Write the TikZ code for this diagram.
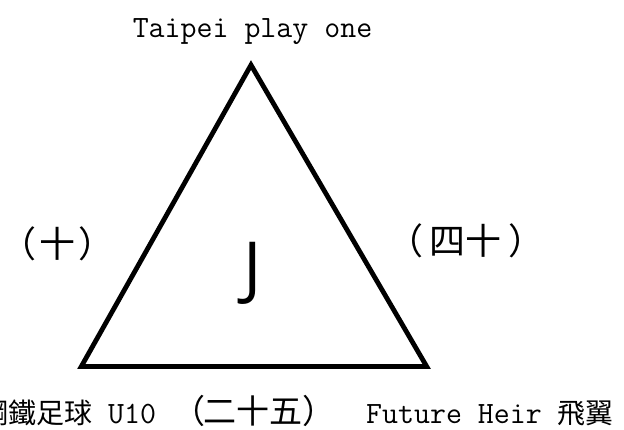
\documentclass[tikz,border=0pt]{standalone}
\usepackage{fontspec}
\newfontfamily\cjk{Noto Sans CJK TC}
\newfontfamily\jfont{Open Sans}
\tikzset{
  lbl/.style={inner sep=0pt, text=black},
  tri/.style={draw=black, line width=4.8pt, line join=miter, miter limit=10}
}
\begin{document}
\begin{tikzpicture}[x=1pt,y=-1pt]
\useasboundingbox (0,0) rectangle (624,429);
\coordinate (A) at (251,65);
\coordinate (B) at (81.3,366.5);
\coordinate (C) at (426.7,366.5);
\draw[tri] (A) -- (B) -- (C) -- cycle;
\node[lbl, anchor=base] (top) at (252.5,37) {\ttfamily\fontsize{31}{36}\selectfont Taipei play one};
\node[lbl] (left) at (57.5,244) {\cjk\fontsize{36}{42}\selectfont （\kern3pt 十\kern3pt ）};
\node[lbl] (right) at (466,241) {\cjk\fontsize{36}{42}\selectfont （\kern7pt 四十\kern7pt ）};
\node[lbl] (J) at (253,273.5) {\jfont\fontsize{69}{78}\selectfont J};
\node[lbl, anchor=base west] (bl) at (-20,423) {{\cjk\fontsize{28}{34}\selectfont 鋼鐵足球}{\ttfamily\fontsize{31}{36}\selectfont\ U10\ }{\cjk\fontsize{33}{40}\selectfont （\kern-2pt 二十五）}};
\node[lbl, anchor=base west] (br) at (366,423) {{\ttfamily\fontsize{31}{36}\selectfont Future\ Heir\ }{\cjk\fontsize{28}{34}\selectfont 飛翼}};
\end{tikzpicture}
\end{document}
